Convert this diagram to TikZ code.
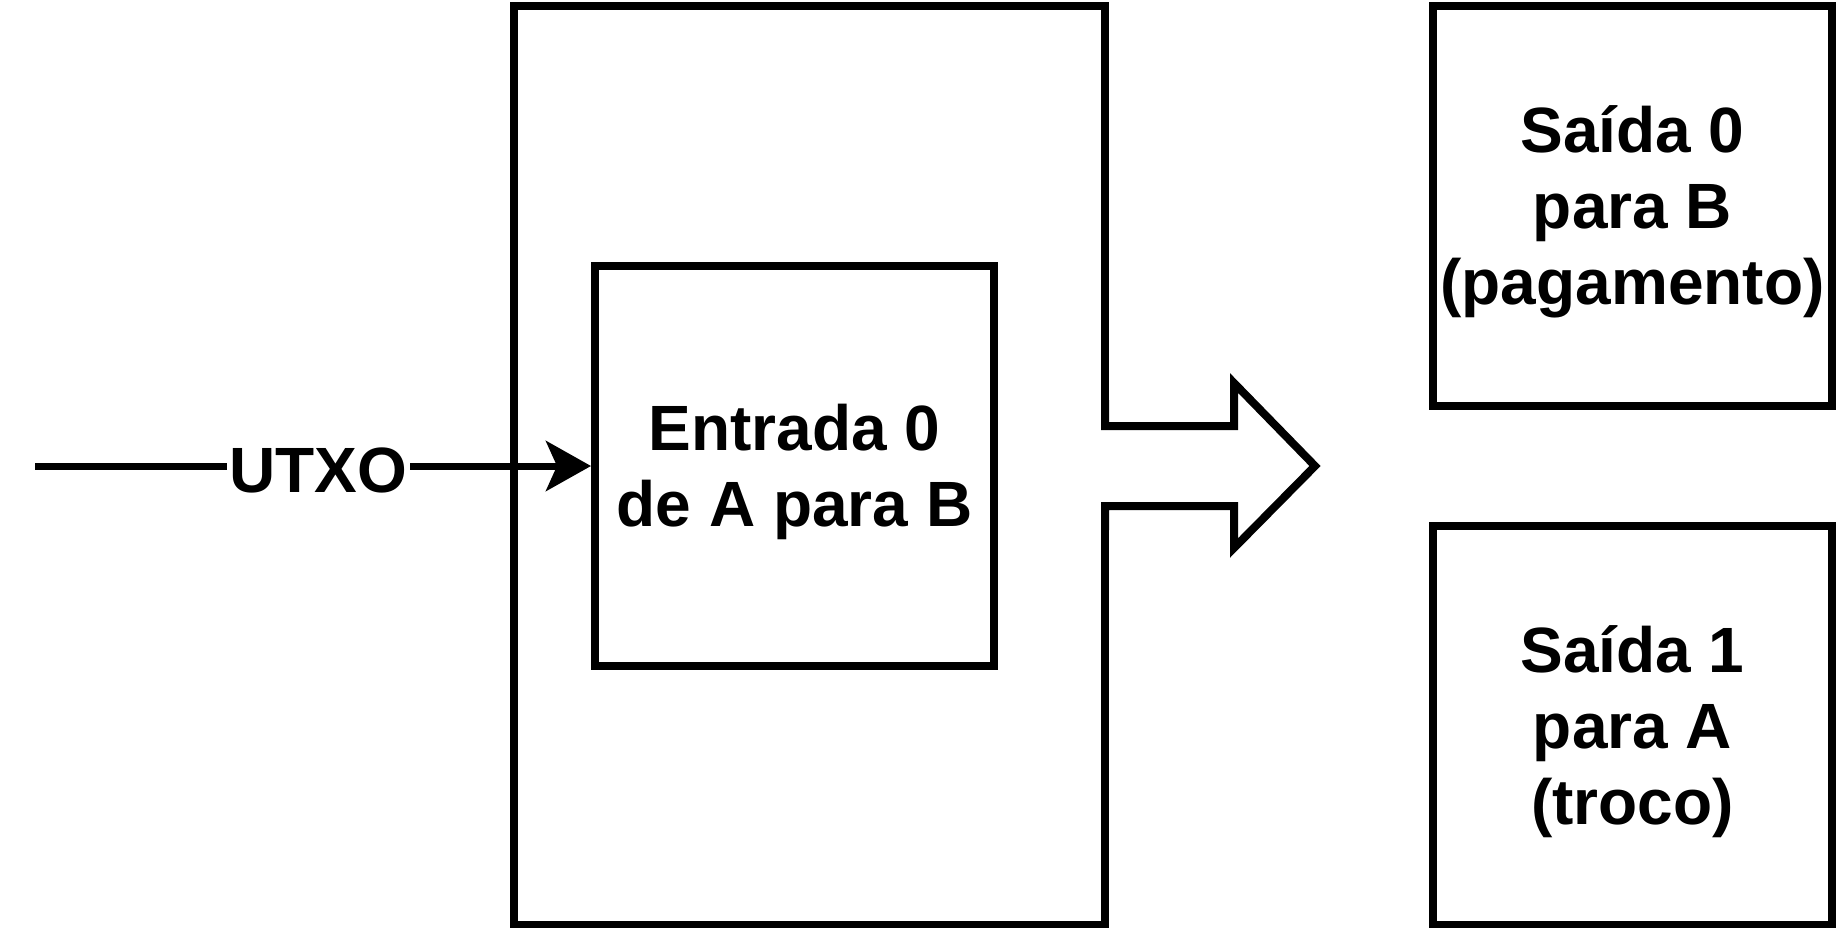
\documentclass[tikz,border=0pt]{standalone}
\usepackage{fontspec}
\setmainfont{Liberation Sans}
\usetikzlibrary{arrows.meta}
\begin{document}
\begin{tikzpicture}[x=1pt,y=-1pt,
  box/.style={draw=black, line width=8pt, fill=white, inner sep=0pt},
  lbl/.style={font=\fontsize{64}{76}\selectfont\bfseries, align=center},
  boxtext/.style={label={[lbl, yshift=-6pt]center:{#1}}},
  conn/.style={line width=7pt, -{Stealth[length=45pt,width=50pt,inset=11pt]}}]
\useasboundingbox (0,0) rectangle (1836,928);
% transaction box
\node[box, minimum width=591pt, minimum height=919pt] (tx) at (809.5,465.5) {};
% inner input box
\node[box, minimum width=399pt, minimum height=400pt, boxtext={Entrada 0\\de A para B}] (inp) at (794.5,466) {};
% big arrow
\fill[white] (1100,426) -- (1234,426) -- (1234,383) -- (1315,466) -- (1234,548) -- (1234,506) -- (1100,506) -- cycle;
\draw[line width=8pt, line join=miter] (1105,400) -- (1105,426) -- (1234,426) -- (1234,383) -- (1315,466) -- (1234,548) -- (1234,506) -- (1105,506) -- (1105,530);
% outputs
\node[box, minimum width=399pt, minimum height=400pt, boxtext={Saída 0\\para B\\(pagamento)}] (out0) at (1632.5,206) {};
\node[box, minimum width=399pt, minimum height=399pt, boxtext={Saída 1\\para A\\(troco)}] (out1) at (1632.5,725.5) {};
% UTXO connector
\coordinate (start) at (35,466);
\draw[conn] (start) -- node[lbl, fill=white, inner sep=3pt, pos=0.51, yshift=-4pt] (utxo) {UTXO} (inp.west);
\end{tikzpicture}
\end{document}
